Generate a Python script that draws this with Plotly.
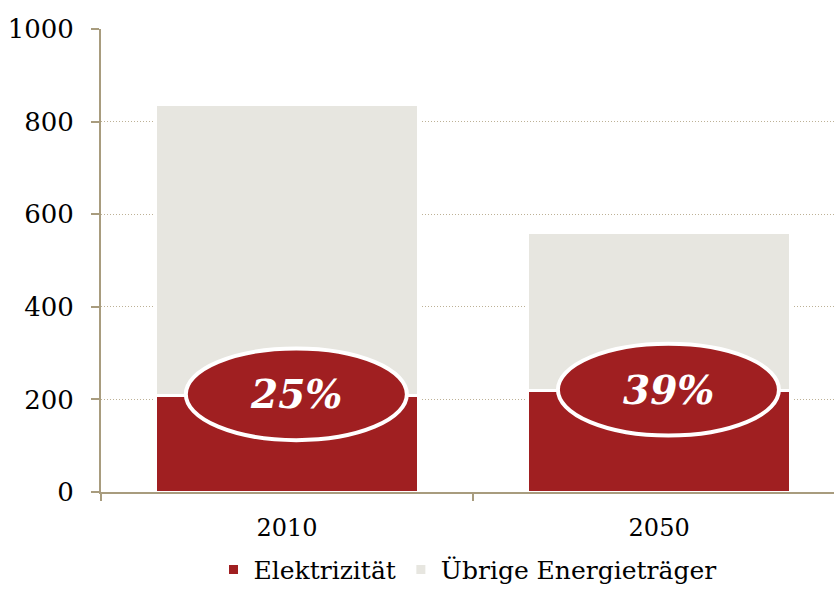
import plotly.graph_objects as go

years = ["2010", "2050"]
elektrizitaet = [209, 219]
uebrige = [627, 342]
y_ticks = [0, 200, 400, 600, 800, 1000]

RED = "#a01f21"
GRAY = "#e7e6e0"
AXIS = "#a89c7e"
GRID = "#bdb196"
FONT = "DejaVu Serif"

fig = go.Figure()
fig.add_trace(go.Bar(x=years, y=elektrizitaet, name="Elektrizität",
                     marker=dict(color=RED, line=dict(color="white", width=3))))
fig.add_trace(go.Bar(x=years, y=uebrige, name="Übrige Energieträger",
                     marker=dict(color=GRAY, line=dict(color="white", width=3))))

# ellipses with share of electricity
half_w = 0.297
half_h = 99
for i, (e, u) in enumerate(zip(elektrizitaet, uebrige)):
    share = round(100 * e / (e + u))
    cx = i + 0.025
    cy = e + 2
    fig.add_shape(type="circle", xref="x", yref="y",
                  x0=cx - half_w, x1=cx + half_w, y0=cy - half_h, y1=cy + half_h,
                  fillcolor=RED, line=dict(color="white", width=4), layer="above")
    fig.add_annotation(x=cx, y=cy, xref="x", yref="y", text=f"<b><i>{share}%</i></b>",
                       showarrow=False, font=dict(family=FONT, size=39, color="white"))

fig.update_layout(
    width=834, height=591,
    margin=dict(l=101, r=0, t=29, b=99, autoexpand=False),
    barmode="stack", bargap=0.293,
    plot_bgcolor="white", paper_bgcolor="white",
    font=dict(family=FONT, size=24, color="black"),
    showlegend=True,
    legend=dict(orientation="h", x=0.50, xanchor="center", y=-0.168, yanchor="middle",
                traceorder="normal", font=dict(family=FONT, size=25, color="black"),
                itemwidth=30, tracegroupgap=0),
)
fig.update_xaxes(type="category", range=[-0.5, 1.47], showline=True, linecolor=AXIS, linewidth=2,
                 ticks="outside", tickson="boundaries", ticklen=7, tickwidth=2, tickcolor=AXIS,
                 showgrid=False, tickfont=dict(family=FONT, size=24, color="black"),
                 ticklabelstandoff=13)
fig.update_yaxes(range=[0, 1000], tickvals=y_ticks, showline=True, linecolor=AXIS, linewidth=2,
                 ticks="outside", ticklen=8, tickwidth=2, tickcolor=AXIS,
                 showgrid=True, gridcolor=GRID, griddash="1px,2px", gridwidth=1,
                 zeroline=False, tickfont=dict(family=FONT, size=26, color="black"),
                 ticklabelstandoff=12)

fig.write_html("out.html")
